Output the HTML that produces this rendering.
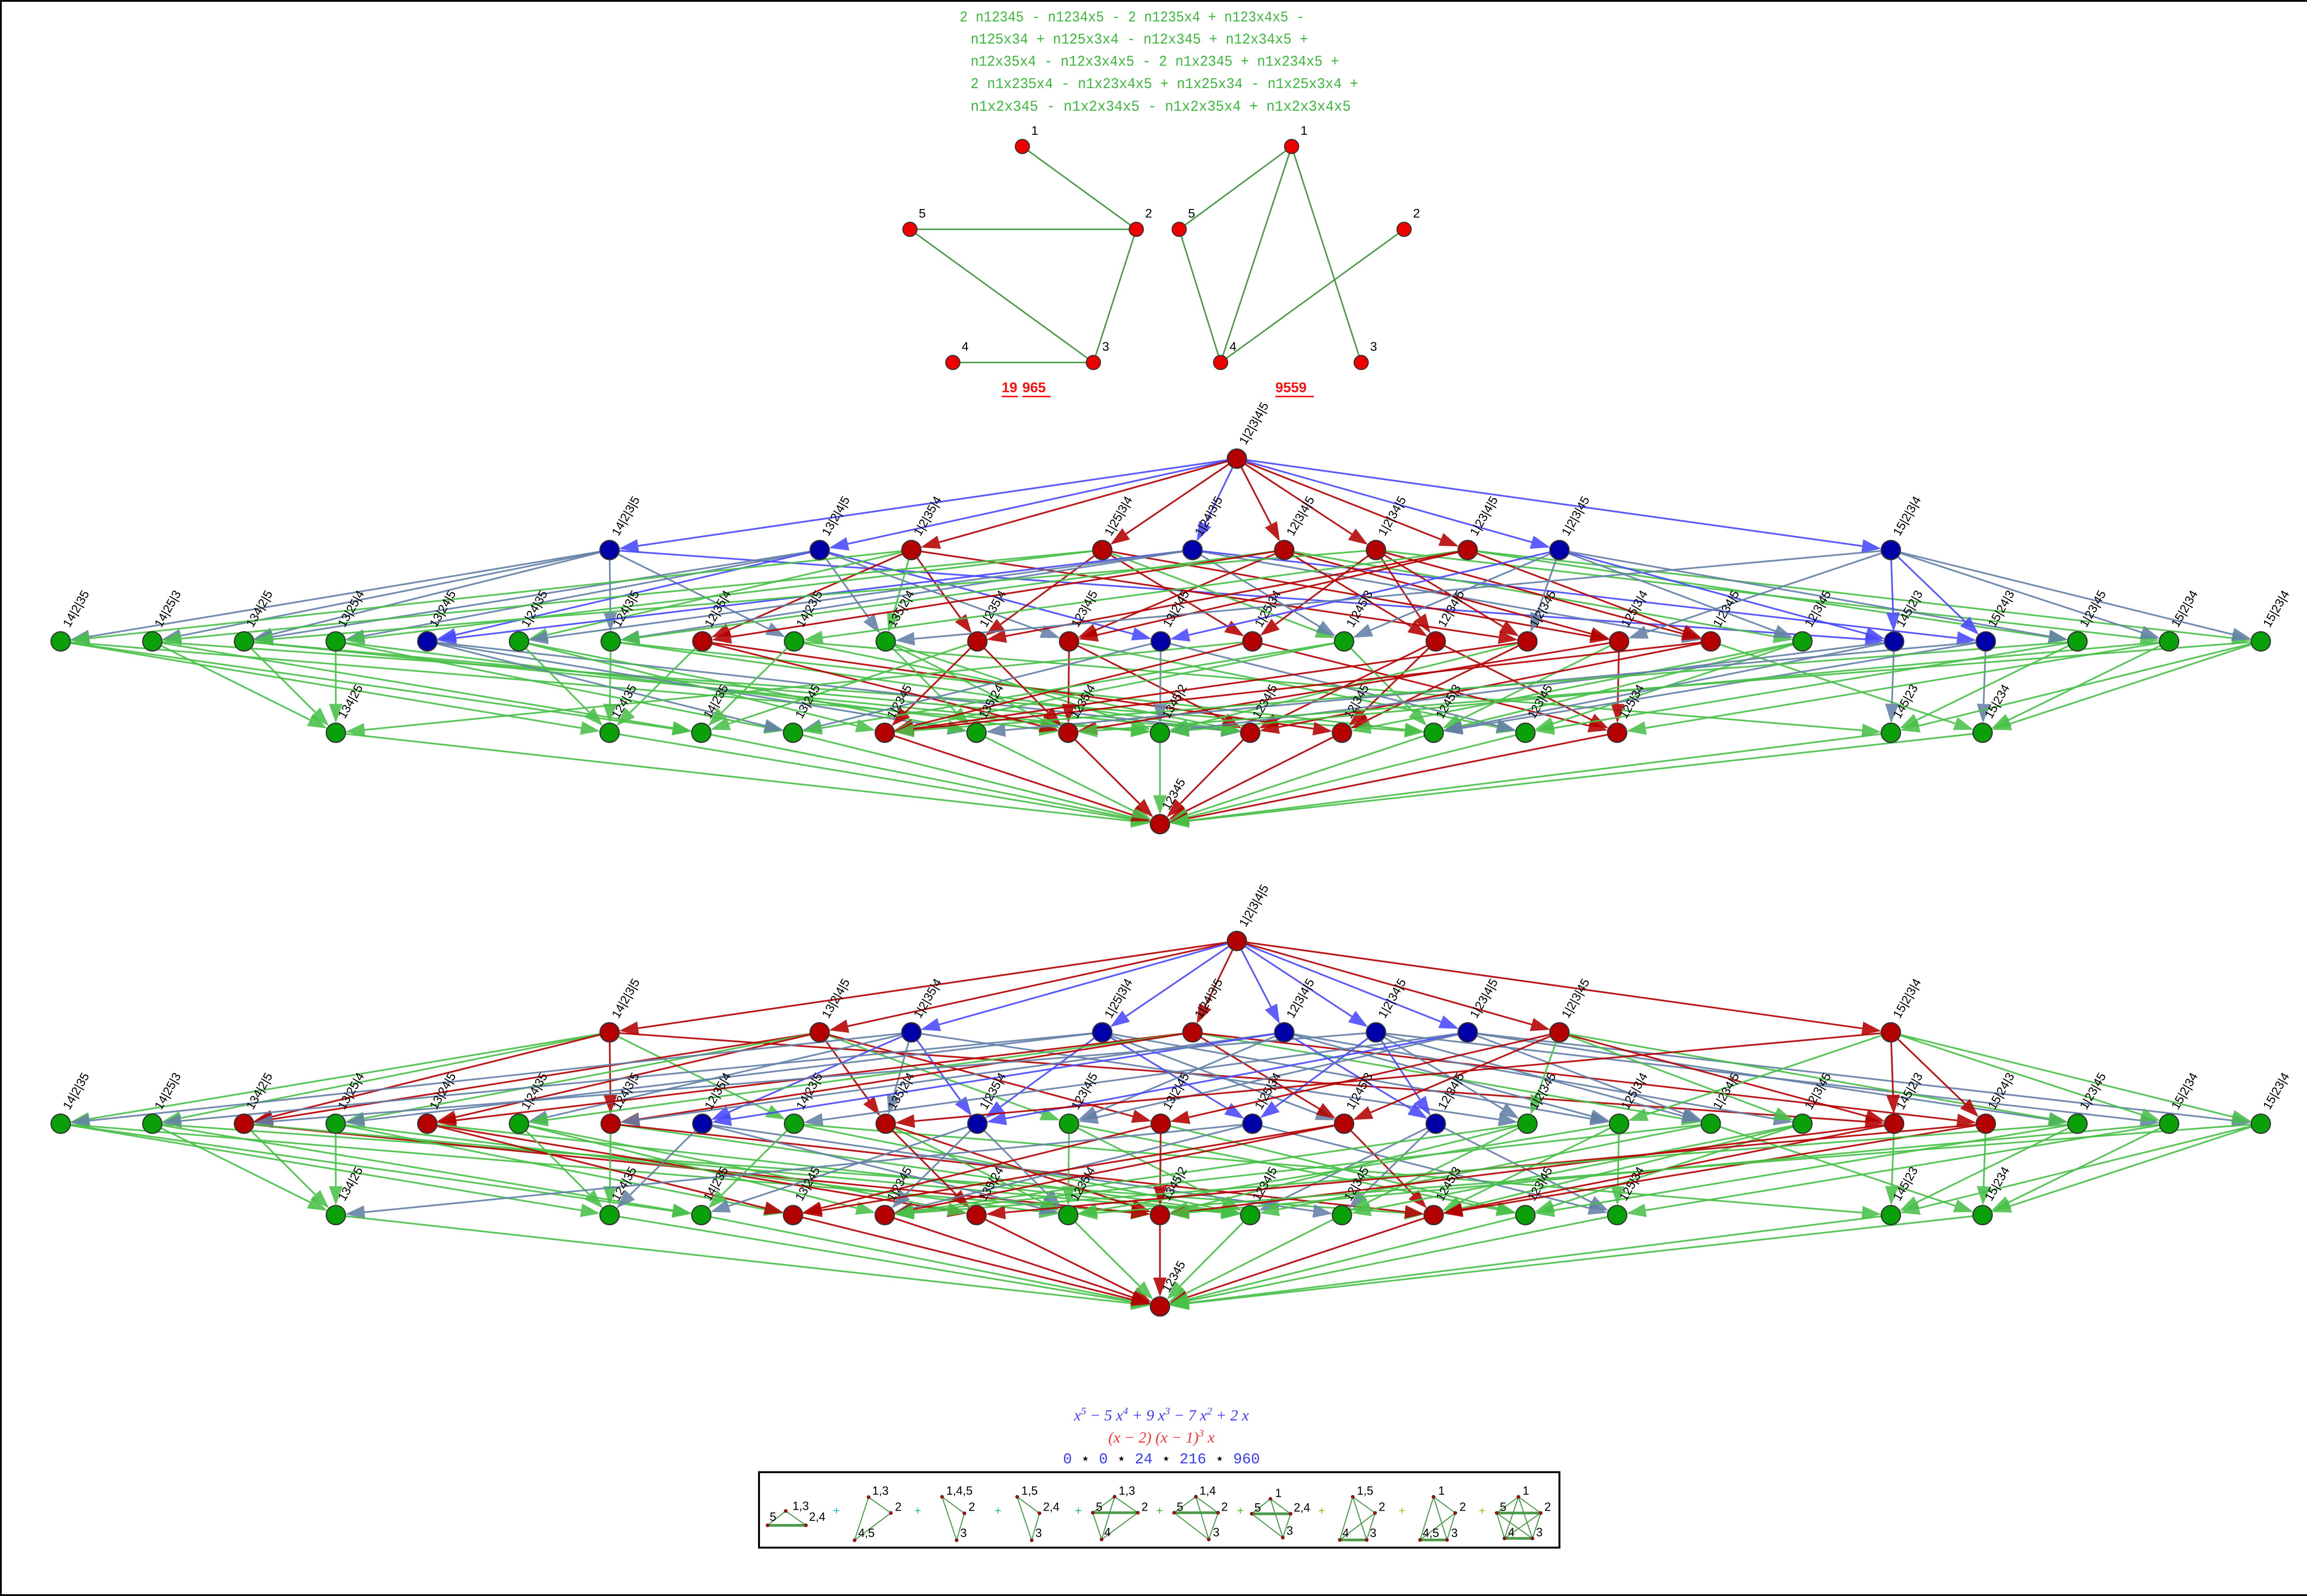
<!DOCTYPE html>
<html><head><meta charset="utf-8"><title>Partition lattice</title>
<style>
html,body{margin:0;padding:0;background:#fff;}
svg{display:block;}
text{font-family:"Liberation Sans",sans-serif;}
</style></head>
<body>
<svg id="root" xmlns="http://www.w3.org/2000/svg" width="5028" height="3459" viewBox="0 0 1568 1078.7" preserveAspectRatio="none">
<rect x="0.6" y="0.6" width="1566.8" height="1077.5" fill="#fff" stroke="#000" stroke-width="1.2"/>
<g fill="#3cb83c" font-size="10">
<text x="648.6" y="14.5" textLength="233" lengthAdjust="spacingAndGlyphs" style="font-family:'Liberation Mono',monospace">2 n12345 - n1234x5 - 2 n1235x4 + n123x4x5 -</text>
<text x="656" y="29.5" textLength="228" lengthAdjust="spacingAndGlyphs" style="font-family:'Liberation Mono',monospace">n125x34 + n125x3x4 - n12x345 + n12x34x5 +</text>
<text x="656" y="44.5" textLength="249" lengthAdjust="spacingAndGlyphs" style="font-family:'Liberation Mono',monospace">n12x35x4 - n12x3x4x5 - 2 n1x2345 + n1x234x5 +</text>
<text x="656" y="59.6" textLength="262" lengthAdjust="spacingAndGlyphs" style="font-family:'Liberation Mono',monospace">2 n1x235x4 - n1x23x4x5 + n1x25x34 - n1x25x3x4 +</text>
<text x="656" y="74.8" textLength="257" lengthAdjust="spacingAndGlyphs" style="font-family:'Liberation Mono',monospace">n1x2x345 - n1x2x34x5 - n1x2x35x4 + n1x2x3x4x5</text>
</g>
<g id="smallgraphs"></g>
<g>
<text x="677" y="265" fill="#ff1010" font-size="9.5" font-weight="bold">19</text>
<line x1="677" y1="268" x2="688" y2="268" stroke="#ff1010" stroke-width="1"/>
<text x="691" y="265" fill="#ff1010" font-size="9.5" font-weight="bold">965</text>
<line x1="691" y1="268" x2="710" y2="268" stroke="#ff1010" stroke-width="1"/>
<text x="862" y="265" fill="#ff1010" font-size="9.5" font-weight="bold">9559</text>
<line x1="862" y1="268" x2="888" y2="268" stroke="#ff1010" stroke-width="1"/>
</g>
<g id="lattice1"></g>
<g id="lattice2"></g>
<g font-size="10.5" text-anchor="middle">
<text x="785" y="960" fill="#3a3aff" font-style="italic" style="font-family:'Liberation Serif',serif">x<tspan dy="-4" font-size="7">5</tspan><tspan dy="4"> − 5 x</tspan><tspan dy="-4" font-size="7">4</tspan><tspan dy="4"> + 9 x</tspan><tspan dy="-4" font-size="7">3</tspan><tspan dy="4"> − 7 x</tspan><tspan dy="-4" font-size="7">2</tspan><tspan dy="4"> + 2 x</tspan></text>
<text x="785" y="975" fill="#ff3030" font-style="italic" style="font-family:'Liberation Serif',serif">(x − 2) (x − 1)<tspan dy="-4" font-size="7">3</tspan><tspan dy="4"> x</tspan></text>
<text x="785" y="989" fill="#3a3aff" style="font-family:'Liberation Mono',monospace" font-size="10">0 <tspan fill="#000">⋆</tspan> 0 <tspan fill="#000">⋆</tspan> 24 <tspan fill="#000">⋆</tspan> 216 <tspan fill="#000">⋆</tspan> 960</text>
</g>
<rect x="513" y="995" width="541" height="51" fill="#fff" stroke="#000" stroke-width="1.3"/>
<g id="legend"></g>
</svg>
<script>
// ---- Lattice data: partition labels per rank ----
const rank0 = ['1|2|3|4|5'];
const rank1 = ['14|2|3|5','13|2|4|5','1|2|35|4','1|25|3|4','1|24|3|5','12|3|4|5','1|2|34|5','1|23|4|5','1|2|3|45','15|2|3|4'];
const rank2 = ['14|2|35','14|25|3','134|2|5','13|25|4','13|24|5','1|24|35','124|3|5','12|35|4','14|23|5','135|2|4','1|235|4','123|4|5','13|2|45','1|25|34','1|245|3','12|34|5','1|2|345','125|3|4','1|234|5','12|3|45','145|2|3','15|24|3','1|23|45','15|2|34','15|23|4'];
const rank3 = ['134|25','124|35','14|235','13|245','1|2345','135|24','1235|4','1345|2','1234|5','12|345','1245|3','123|45','125|34','145|23','15|234'];
const rank4 = ['12345'];
// node classes (r = red, g = green, b = blue)
const topColors1 = ['b','b','r','r','b','r','r','r','b','b'];
const topColors2 = ['g','g','g','g','b','g','g','r','g','g','r','r','b','r','g','r','r','r','r','g','b','b','g','g','g'];
const topColors3 = ['g','g','g','g','r','g','r','g','r','r','g','g','r','g','g'];
const botColors1 = ['r','r','b','b','r','b','b','b','r','r'];
const botColors2 = ['g','g','r','g','r','g','r','b','g','r','b','g','r','b','r','b','g','g','g','g','r','r','g','g','g'];
const botColors3 = ['g','g','g','r','r','r','g','r','g','g','r','g','g','g','g'];

// ---- layout (positions only) ----
const layoutX0 = [836];
const layoutX1 = [412,554,616,745,806,868,930,992,1054,1278];
const layoutX3 = [227,412,474,536,598,660,722,784,845,907,969,1031,1093,1278,1340];
const layoutX4 = [784];
function xRank2(i){ return 41 + i*61.96; }

const NS='http://www.w3.org/2000/svg';
function mk(tag, attrs, parent){
  const e=document.createElementNS(NS,tag);
  for(const k in attrs) e.setAttribute(k, attrs[k]);
  parent.appendChild(e); return e;
}
const fillOf={r:'#b40000',g:'#0aa00a',b:'#0000a8'};
function edgeColor(s,t){
  if(t==='b') return '#4848ff';
  if(s==='b') return '#6380a6';
  if(s==='g' || t==='g') return '#48c048';
  return '#b40000';
}
function refines(p,q){
  const qb=q.split('|');
  return p.split('|').every(pb=>qb.some(b=>[...pb].every(c=>b.includes(c))));
}
function drawLattice(gid, y0, c1, c2, c3){
  const g=document.getElementById(gid);
  const step=61.75;
  const levels=[
    rank0.map((l,i)=>({l,x:layoutX0[i],y:y0,c:'r'})),
    rank1.map((l,i)=>({l,x:layoutX1[i],y:y0+step,c:c1[i]})),
    rank2.map((l,i)=>({l,x:xRank2(i),y:y0+2*step,c:c2[i]})),
    rank3.map((l,i)=>({l,x:layoutX3[i],y:y0+3*step,c:c3[i]})),
    rank4.map((l,i)=>({l,x:layoutX4[i],y:y0+4*step,c:'r'}))
  ];
  const eg=mk('g',{},g);
  
  
  const R=6.5;
  for(let k=0;k<4;k++){
    for(const a of levels[k]) for(const b of levels[k+1]){
      if(!refines(a.l,b.l)) continue;
      const col=edgeColor(a.c,b.c);
      const dx=b.x-a.x, dy=b.y-a.y, d=Math.hypot(dx,dy), ux=dx/d, uy=dy/d;
      const tx=b.x-ux*R, ty=b.y-uy*R, bx=tx-ux*13, by=ty-uy*13;
      const ln=mk('line',{x1:a.x+ux*R,y1:a.y+uy*R,x2:bx,y2:by,stroke:col,'stroke-width':1.15,'stroke-opacity':0.9},eg);
      
      
      const px=-uy*4.6, py=ux*4.6;
      const ah=mk('polygon',{points:`${tx},${ty} ${bx+px},${by+py} ${bx-px},${by-py}`,fill:col,'fill-opacity':0.88},eg);
      
      
    }
  }
  for(const lev of levels) for(const n of lev){
    const c=mk('circle',{cx:n.x,cy:n.y,r:R,fill:fillOf[n.c],stroke:'#333','stroke-width':0.8},g);
    
    
    const t=mk('text',{x:n.x+6,y:n.y-9,'font-size':8.2,fill:'#000',transform:`rotate(-60 ${n.x+6} ${n.y-9})`},g);
    
    
    t.textContent=n.l;
  }
}
drawLattice('lattice1',310,topColors1,topColors2,topColors3);
drawLattice('lattice2',636,botColors1,botColors2,botColors3);

// ---- two small graphs ----
const sgNodesL = [['1',691,99],['2',768,155],['5',615,155],['4',644,245],['3',739,245]];
const sgEdgesL = [['1','2'],['5','2'],['5','3'],['2','3'],['4','3']];
const sgNodesR = [['1',873,99],['5',797,155],['2',949,155],['4',825,245],['3',920,245]];
const sgEdgesR = [['1','5'],['1','4'],['1','3'],['5','4'],['2','4']];
(function(){
  const g=document.getElementById('smallgraphs');
  for(const [nodes,edges] of [[sgNodesL,sgEdgesL],[sgNodesR,sgEdgesR]]){
    const pos={}; nodes.forEach(n=>pos[n[0]]=n);
    for(const [a,b] of edges){
      const l=mk('line',{x1:pos[a][1],y1:pos[a][2],x2:pos[b][1],y2:pos[b][2],stroke:'#4a9a4a','stroke-width':1},g);
      
      
    }
    for(const n of nodes){
      const c=mk('circle',{cx:n[1],cy:n[2],r:4.8,fill:'#ee0000',stroke:'#333','stroke-width':0.7},g);
      
      
      const t=mk('text',{x:n[1]+6,y:n[2]-8,'font-size':8.5,fill:'#000'},g);
      
      
      t.textContent=n[0];
    }
  }
})();

// ---- legend mini graphs (coords in zoom space) ----
const legendItems = [
  {n:[[65,765],[30,858],[104,858]], e:[[0,1],[0,2],[1,2,1]], t:[['1,3',78,720],['5',34,790],['2,4',110,790]]},
  {n:[[225,675],[268,778],[198,955]], e:[[0,1],[1,2],[0,2]], t:[['1,3',232,620],['2',276,725],['4,5',205,895]]},
  {n:[[367,673],[410,780],[395,955]], e:[[0,1],[1,2],[0,2]], t:[['1,4,5',375,620],['2',418,725],['3',402,895]]},
  {n:[[512,673],[555,780],[540,955]], e:[[0,1],[1,2],[0,2]], t:[['1,5',520,620],['2,4',562,725],['3',547,895]]},
  {n:[[700,672],[745,776],[658,776],[675,950]], e:[[0,1],[0,2],[2,1,1],[0,3],[2,3],[1,3]], t:[['1,3',708,620],['5',664,725],['2',752,725],['4',680,890]]},
  {n:[[857,672],[815,776],[900,776],[882,950]], e:[[0,1],[0,2],[1,2,1],[0,3],[1,3],[2,3]], t:[['1,4',864,620],['5',820,725],['2',906,725],['3',890,890]]},
  {n:[[1001,686],[965,783],[1040,783],[1025,938]], e:[[0,1],[0,2],[1,2,1],[0,3],[1,3],[2,3]], t:[['1',1010,635],['5',970,730],['2,4',1046,730],['3',1032,880]]},
  {n:[[1160,673],[1203,778],[1135,953],[1187,953]], e:[[0,1],[0,2],[0,3],[1,2],[1,3],[2,3,1]], t:[['1,5',1168,620],['2',1210,725],['4',1140,895],['3',1193,895]]},
  {n:[[1316,673],[1358,778],[1290,953],[1342,953]], e:[[0,1],[0,2],[0,3],[1,2],[1,3],[2,3,1]], t:[['1',1325,620],['2',1366,725],['4,5',1295,895],['3',1350,895]]},
  {n:[[1480,673],[1438,778],[1523,778],[1453,943],[1507,943]], e:[[0,1],[0,2],[1,2,1],[0,3],[0,4],[1,3],[1,4],[2,3],[2,4],[3,4,1]], t:[['1',1488,620],['5',1444,725],['2',1530,725],['4',1460,890],['3',1514,890]]}
];
const legendPlusX = [163,320,475,630,787,943,1100,1255,1410];
const legendPlusColors = ['#20c0c0','#20c0a0','#20c080','#20c060','#40c040','#60c020','#90c000','#b0c000','#c0b000'];
(function(){
  const g=document.getElementById('legend');
  const fx=z=>508.3+z*0.35, fy=z=>941.7+z*0.104;
  legendItems.forEach(it=>{
    const ig=mk('g',{},g);
    
    
    for(const e of it.e){
      const a=it.n[e[0]], b=it.n[e[1]];
      const l=mk('line',{x1:fx(a[0]),y1:fy(a[1]),x2:fx(b[0]),y2:fy(b[1]),stroke:'#4a9a4a','stroke-width':e[2]?1.8:0.7},ig);
      
      
    }
    for(const n of it.n){
      const c=mk('circle',{cx:fx(n[0]),cy:fy(n[1]),r:1.1,fill:'#c00000',stroke:'#333','stroke-width':0.3},ig);
      
      
    }
    for(const t of it.t){
      const tx=mk('text',{x:fx(t[1]),y:fy(t[2])+4,'font-size':8,fill:'#000'},ig);
      
      
      tx.textContent=t[0];
    }
  });
  legendPlusX.forEach((x,i)=>{
    const t=mk('text',{x:fx(x),y:fy(760)+3,'font-size':8,fill:legendPlusColors[i],'text-anchor':'middle'},g);
    
    
    t.textContent='+';
  });
})();
</script>
</body></html>
